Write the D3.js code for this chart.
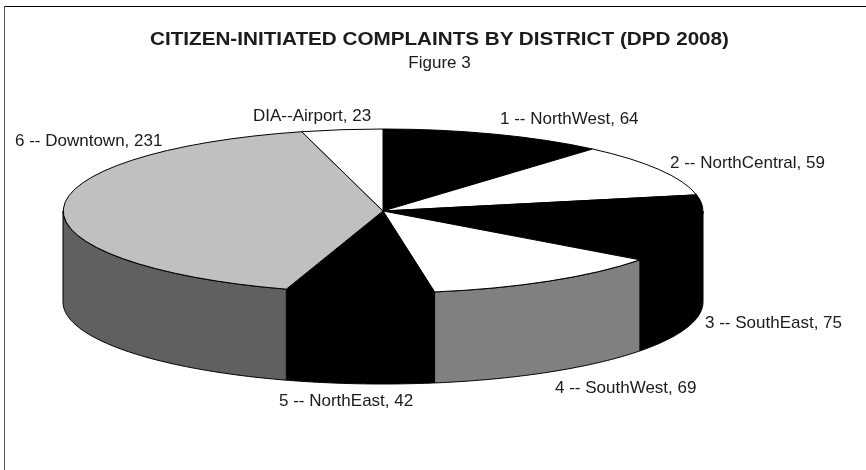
<!DOCTYPE html>
<html lang="en">
	<head>
		<meta charset="utf-8">
		<title>Citizen-Initiated Complaints by District</title>
		<script src="https://cdn.jsdelivr.net/npm/d3@7"></script>
		<style>
			html, body { margin: 0; padding: 0; background: #fff; }
			svg { display: block; }
			text { font-family: "Liberation Sans", Arial, sans-serif; fill: #1a1a1a; filter: url(#soft); }
		</style>
	</head>
	<body>
		<script>
			// chart values, clockwise from 12 o'clock
			const districts = ["1 -- NorthWest", "2 -- NorthCentral", "3 -- SouthEast", "4 -- SouthWest", "5 -- NorthEast", "6 -- Downtown", "DIA--Airport"];
			const complaints = [64, 59, 75, 69, 42, 231, 23];
			const topColors = ["#000000", "#ffffff", "#000000", "#ffffff", "#000000", "#c0c0c0", "#ffffff"];
			const sideColors = ["#000000", "#ffffff", "#000000", "#808080", "#000000", "#606060", "#ffffff"];
			// label start x and baseline y
			const labelX = [500, 670, 705, 555, 279, 15, 253];
			const labelY = [124, 168, 328, 393, 406, 146, 121];

			let w = 866;
			let h = 470;
			let cx = 383, cy = 211, rx = 320, ry = 82, depth = 91;

			let svg = d3.select("body").append("svg")
				.attr("width", w)
				.attr("height", h);

			// scan looks soft, blur the text a touch
			svg.append("defs").append("filter")
				.attr("id", "soft")
				.append("feGaussianBlur")
				.attr("stdDeviation", 0.45);

			// frame, only top and left show in the scan
			svg.append("line").attr("x1", 4.5).attr("x2", w).attr("y1", 6.5).attr("y2", 6.5)
				.attr("stroke", "#000").attr("stroke-width", 1.2);
			svg.append("line").attr("x1", 4.5).attr("x2", 4.5).attr("y1", 6).attr("y2", h)
				.attr("stroke", "#555").attr("stroke-width", 1);

			let xScale = d3.scaleLinear().domain([-1, 1]).range([cx - rx, cx + rx]);
			let yScale = d3.scaleLinear().domain([-1, 1]).range([cy - ry, cy + ry]);

			let slices = d3.pie().sort(null)(complaints);

			// side wall, only the front half of the rim is visible
			let wall = d3.area()
				.x((a) => xScale(Math.sin(a)))
				.y0((a) => yScale(-Math.cos(a)))
				.y1((a) => yScale(-Math.cos(a)) + depth);

			slices.forEach((d) => {
				let a0 = Math.max(d.startAngle, Math.PI / 2);
				let a1 = Math.min(d.endAngle, Math.PI * 1.5);
				if (a0 >= a1) return;
				let n = 60;
				let angles = d3.range(n + 1).map((i) => a0 + (a1 - a0) * i / n);
				svg.append("path")
					.attr("d", wall(angles))
					.attr("fill", sideColors[d.index])
					.attr("stroke", "#000")
					.attr("stroke-width", 1);
			});

			// top face: unit pie squashed into the ellipse
			let arc = d3.arc().innerRadius(0).outerRadius(1);
			svg.append("g")
				.attr("transform", "translate(" + cx + "," + cy + ") scale(" + rx + "," + ry + ")")
				.selectAll("path")
				.data(slices)
				.enter()
				.append("path")
				.attr("d", arc)
				.attr("fill", (d) => topColors[d.index])
				.attr("stroke", "#000")
				.attr("stroke-width", 1)
				.attr("vector-effect", "non-scaling-stroke");

			svg.append("text")
				.attr("x", 439.5).attr("y", 45)
				.attr("text-anchor", "middle")
				.attr("font-size", "19px")
				.attr("font-weight", "bold")
				.attr("textLength", 579)
				.attr("lengthAdjust", "spacingAndGlyphs")
				.text("CITIZEN-INITIATED COMPLAINTS BY DISTRICT (DPD 2008)");

			svg.append("text")
				.attr("x", 439.5).attr("y", 68)
				.attr("text-anchor", "middle")
				.attr("font-size", "17px")
				.text("Figure 3");

			svg.selectAll("text.label")
				.data(districts)
				.enter()
				.append("text")
				.attr("class", "label")
				.attr("x", (d, i) => labelX[i])
				.attr("y", (d, i) => labelY[i])
				.attr("font-size", "17px")
				.text((d, i) => d + ", " + complaints[i]);
		</script>
	</body>
</html>
